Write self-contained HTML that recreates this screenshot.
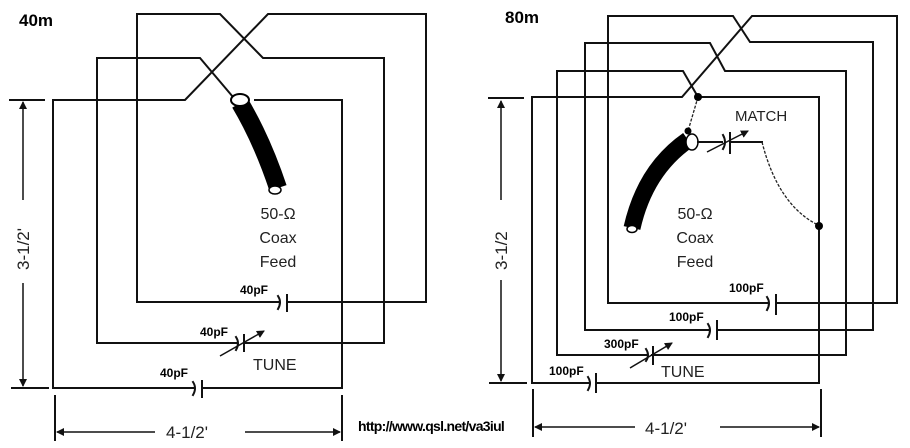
<!DOCTYPE html>
<html><head><style>
html,body{margin:0;padding:0;background:#fff;width:910px;height:448px;overflow:hidden}
svg{display:block}
.w{fill:none;stroke:#111;stroke-width:2;stroke-linecap:square}
.d{fill:none;stroke:#222;stroke-width:1.3;stroke-dasharray:3 1.5}
.t{font-family:"Liberation Sans",Arial,sans-serif;fill:#222}
.b{font-family:"Liberation Sans",Arial,sans-serif;font-weight:bold;fill:#000}
</style></head><body>
<svg width="910" height="448" viewBox="0 0 910 448" xmlns="http://www.w3.org/2000/svg">
<defs>
<marker id="ah" markerWidth="8" markerHeight="8" refX="7" refY="4" orient="auto" markerUnits="userSpaceOnUse"><path d="M0,0 L8,4 L0,8z" fill="#111"/></marker>
</defs>
<!-- ===== 40m ===== -->
<text class="b" x="19" y="26" font-size="17">40m</text>
<polyline class="w" points="278,302 137,302 137,14 220,14 263,58 384,58 384,343 244,343"/>
<polyline class="w" points="288,302 426,302 426,14 268,14 185,100 53,100 53,388 194,388"/>
<polyline class="w" points="236,343 97,343 97,58 200,58 233,97"/>
<polyline class="w" points="204,388 342,388 342,100 255,100"/>
<path class="w" d="M278,296 q4,6 0,13" /><line class="w" x1="287" y1="295" x2="287" y2="311"/>
<path class="w" d="M193,382 q4,6 0,13" /><line class="w" x1="202" y1="381" x2="202" y2="397"/>
<path class="w" d="M236,337 q4,6 0,13" /><line class="w" x1="244" y1="335" x2="244" y2="351"/>
<line x1="220" y1="356" x2="264" y2="331" stroke="#111" stroke-width="1.5" marker-end="url(#ah)"/>
<path d="M240,103 Q262,140 278,188" stroke="#000" stroke-width="18" fill="none"/>
<ellipse cx="240" cy="100" rx="9" ry="6" fill="#fff" stroke="#000" stroke-width="2"/>
<ellipse cx="275" cy="190" rx="6" ry="4" fill="#fff" stroke="#000" stroke-width="1.5"/>
<text class="t" x="278" y="219" font-size="16" text-anchor="middle">50-Ω</text>
<text class="t" x="278" y="243" font-size="16" text-anchor="middle">Coax</text>
<text class="t" x="278" y="267" font-size="16" text-anchor="middle">Feed</text>
<text class="b" x="240" y="294" font-size="12">40pF</text>
<text class="b" x="200" y="336" font-size="12">40pF</text>
<text class="b" x="160" y="377" font-size="12">40pF</text>
<text class="t" x="253" y="370" font-size="16">TUNE</text>
<line class="w" x1="10" y1="100" x2="44" y2="100" stroke-width="1.5"/>
<line class="w" x1="12" y1="388" x2="48" y2="388" stroke-width="1.5"/>
<line x1="23" y1="200" x2="23" y2="102" stroke="#111" stroke-width="1.5" marker-end="url(#ah)"/>
<line x1="23" y1="283" x2="23" y2="386" stroke="#111" stroke-width="1.5" marker-end="url(#ah)"/>
<text class="t" x="0" y="0" font-size="17" transform="translate(29,270) rotate(-90)">3-1/2'</text>
<line class="w" x1="55" y1="396" x2="55" y2="440" stroke-width="1.3"/>
<line class="w" x1="342" y1="396" x2="342" y2="440" stroke-width="1.3"/>
<line x1="155" y1="432" x2="57" y2="432" stroke="#111" stroke-width="1.5" marker-end="url(#ah)"/>
<line x1="245" y1="432" x2="340" y2="432" stroke="#111" stroke-width="1.5" marker-end="url(#ah)"/>
<text class="t" x="166" y="438" font-size="17">4-1/2'</text>
<text class="b" x="358" y="431" font-size="14" style="letter-spacing:-0.7px">http://www.qsl.net/va3iul</text>
<!-- ===== 80m ===== -->
<text class="b" x="505" y="23" font-size="17">80m</text>
<polyline class="w" points="767,303 608,303 608,16 733,16 750,42 873,42 873,330 717,330"/>
<polyline class="w" points="708,330 585,330 585,43 710,43 725,71 846,71 846,355 652,355"/>
<polyline class="w" points="646,355 557,355 557,71 683,71 698,97 819,97 819,383 596,383"/>
<polyline class="w" points="588,383 532,383 532,97 682,97 752,16 897,16 897,303 776,303"/>
<path class="w" d="M767,297 q4,6 0,13" /><line class="w" x1="776" y1="295" x2="776" y2="314"/>
<path class="w" d="M708,324 q4,6 0,13" /><line class="w" x1="717" y1="321" x2="717" y2="339"/>
<path class="w" d="M588,377 q4,6 0,13" /><line class="w" x1="596" y1="374" x2="596" y2="392"/>
<path class="w" d="M646,349 q4,6 0,12" /><line class="w" x1="653" y1="347" x2="653" y2="364"/>
<line x1="630" y1="368" x2="672" y2="343" stroke="#111" stroke-width="1.5" marker-end="url(#ah)"/>
<line class="d" x1="698" y1="97" x2="688" y2="131"/>
<circle cx="698" cy="97" r="4" fill="#000"/>
<path d="M688,140 Q645,170 632,228" stroke="#000" stroke-width="17" fill="none"/>
<circle cx="688" cy="131" r="3.5" fill="#000"/>
<ellipse cx="692" cy="142" rx="6" ry="8" fill="#fff" stroke="#000" stroke-width="1.5"/>
<ellipse cx="632" cy="229" rx="5" ry="3.5" fill="#fff" stroke="#000" stroke-width="1.5"/>
<line class="w" x1="698" y1="142" x2="722" y2="142" stroke-width="1.5"/>
<path class="w" d="M723,135 q4,7 0,14" stroke-width="1.5"/><line class="w" x1="730" y1="133" x2="730" y2="153" stroke-width="1.5"/>
<polyline class="w" points="730,142 762,142" stroke-width="1.5"/>
<path class="d" d="M762,142 Q778,205 818,225"/>
<circle cx="819" cy="226" r="4" fill="#000"/>
<line x1="707" y1="152" x2="748" y2="131" stroke="#111" stroke-width="1.5" marker-end="url(#ah)"/>
<text class="t" x="735" y="121" font-size="15">MATCH</text>
<text class="t" x="695" y="219" font-size="16" text-anchor="middle">50-Ω</text>
<text class="t" x="695" y="243" font-size="16" text-anchor="middle">Coax</text>
<text class="t" x="695" y="267" font-size="16" text-anchor="middle">Feed</text>
<text class="b" x="729" y="292" font-size="12">100pF</text>
<text class="b" x="669" y="321" font-size="12">100pF</text>
<text class="b" x="604" y="348" font-size="12">300pF</text>
<text class="b" x="549" y="375" font-size="12">100pF</text>
<text class="t" x="661" y="377" font-size="16">TUNE</text>
<line class="w" x1="489" y1="98" x2="523" y2="98" stroke-width="1.5"/>
<line class="w" x1="490" y1="383" x2="526" y2="383" stroke-width="1.5"/>
<line x1="501" y1="200" x2="501" y2="101" stroke="#111" stroke-width="1.5" marker-end="url(#ah)"/>
<line x1="501" y1="280" x2="501" y2="381" stroke="#111" stroke-width="1.5" marker-end="url(#ah)"/>
<text class="t" x="0" y="0" font-size="17" transform="translate(507,270) rotate(-90)">3-1/2</text>
<line class="w" x1="533" y1="390" x2="533" y2="436" stroke-width="1.3"/>
<line class="w" x1="821" y1="390" x2="821" y2="436" stroke-width="1.3"/>
<line x1="635" y1="427" x2="535" y2="427" stroke="#111" stroke-width="1.5" marker-end="url(#ah)"/>
<line x1="720" y1="427" x2="819" y2="427" stroke="#111" stroke-width="1.5" marker-end="url(#ah)"/>
<text class="t" x="645" y="434" font-size="17">4-1/2'</text>
</svg>
</body></html>
